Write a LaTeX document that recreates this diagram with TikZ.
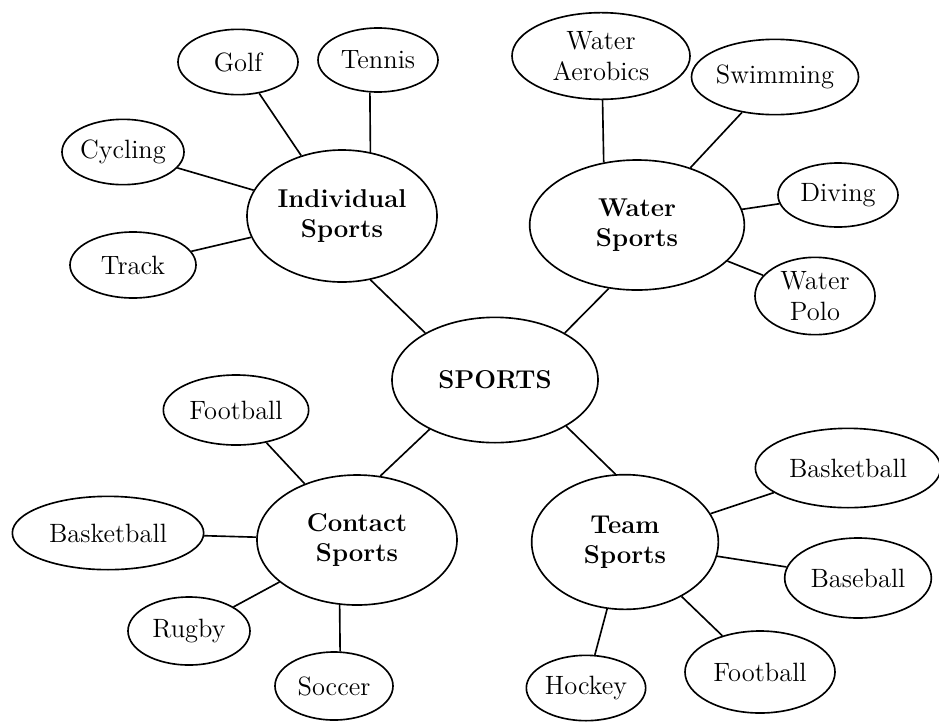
\documentclass[tikz,border=0pt]{standalone}
\usepackage{tikz}
\usetikzlibrary{shapes.geometric}

\begin{document}
\begin{tikzpicture}[x=0.015cm, y=-0.015cm, line width=0.7pt,
  leaf/.style={draw, ellipse, inner sep=0pt, align=center, font=\fontsize{11.3}{13}\selectfont},
  hub/.style={leaf, font=\fontsize{11}{13}\selectfont\bfseries}]
\useasboundingbox (0,0) rectangle (939,722);
\node (sports) [hub, minimum width=3.09cm, minimum height=1.88cm] at (495,380) {SPORTS};
\node (indiv) [hub, minimum width=2.85cm, minimum height=1.98cm] at (342,216) {Individual\\Sports};
\node (water) [hub, minimum width=3.22cm, minimum height=1.95cm] at (637,225) {Water\\Sports};
\node (contact) [hub, minimum width=3.0cm, minimum height=1.95cm] at (357,540) {Contact\\Sports};
\node (team) [hub, minimum width=2.8cm, minimum height=2.02cm] at (625,542) {Team\\Sports};

\node (golf) [leaf, minimum width=1.8cm, minimum height=0.98cm] at (238,62) {Golf};
\node (tennis) [leaf, minimum width=1.8cm, minimum height=0.96cm] at (378,60) {Tennis};
\node (cycling) [leaf, minimum width=1.83cm, minimum height=0.98cm] at (123,152) {Cycling};
\node (track) [leaf, minimum width=1.89cm, minimum height=0.99cm] at (133,265) {Track};

\node (aerobics) [leaf, minimum width=2.67cm, minimum height=1.3cm] at (601,56) {Water\\Aerobics};
\node (swimming) [leaf, minimum width=2.34cm, minimum height=1.13cm] at (775,77) {Swimming};
\node (diving) [leaf, minimum width=1.8cm, minimum height=0.96cm] at (838,195) {Diving};
\node (polo) [leaf, minimum width=1.8cm, minimum height=1.16cm] at (815,296) {Water\\Polo};

\node (cfootball) [leaf, minimum width=2.18cm, minimum height=1.05cm] at (236,410) {Football};
\node (cbasket) [leaf, minimum width=2.87cm, minimum height=1.1cm] at (108,533) {Basketball};
\node (rugby) [leaf, minimum width=1.83cm, minimum height=1.02cm] at (189,631) {Rugby};
\node (soccer) [leaf, minimum width=1.77cm, minimum height=1.02cm] at (334,686) {Soccer};

\node (tbasket) [leaf, minimum width=2.78cm, minimum height=1.19cm] at (848,468) {Basketball};
\node (baseball) [leaf, minimum width=2.2cm, minimum height=1.2cm] at (858,578) {Baseball};
\node (tfootball) [leaf, minimum width=2.25cm, minimum height=1.23cm] at (760,672) {Football};
\node (hockey) [leaf, minimum width=1.79cm, minimum height=0.98cm] at (586,688) {Hockey};

% hubs to centre
\draw (sports.146) -- (indiv.294);
\draw (sports.34) -- (water.246);
\draw (sports.217) -- (contact.70);
\draw (sports.327) -- (team.98);
% individual
\draw (golf) -- (indiv);
\draw (tennis.256) -- (indiv.66);
\draw (cycling) -- (indiv);
\draw (track) -- (indiv);
% water
\draw (aerobics.272) -- (water.118);
\draw (swimming) -- (water);
\draw (diving) -- (water);
\draw (polo) -- (water);
% contact
\draw (cfootball) -- (contact);
\draw (cbasket) -- (contact);
\draw (rugby) -- (contact);
\draw (soccer.80) -- (contact.255);
% team
\draw (tbasket) -- (team);
\draw (baseball) -- (team);
\draw (tfootball) -- (team);
\draw (hockey) -- (team);
\end{tikzpicture}
\end{document}
